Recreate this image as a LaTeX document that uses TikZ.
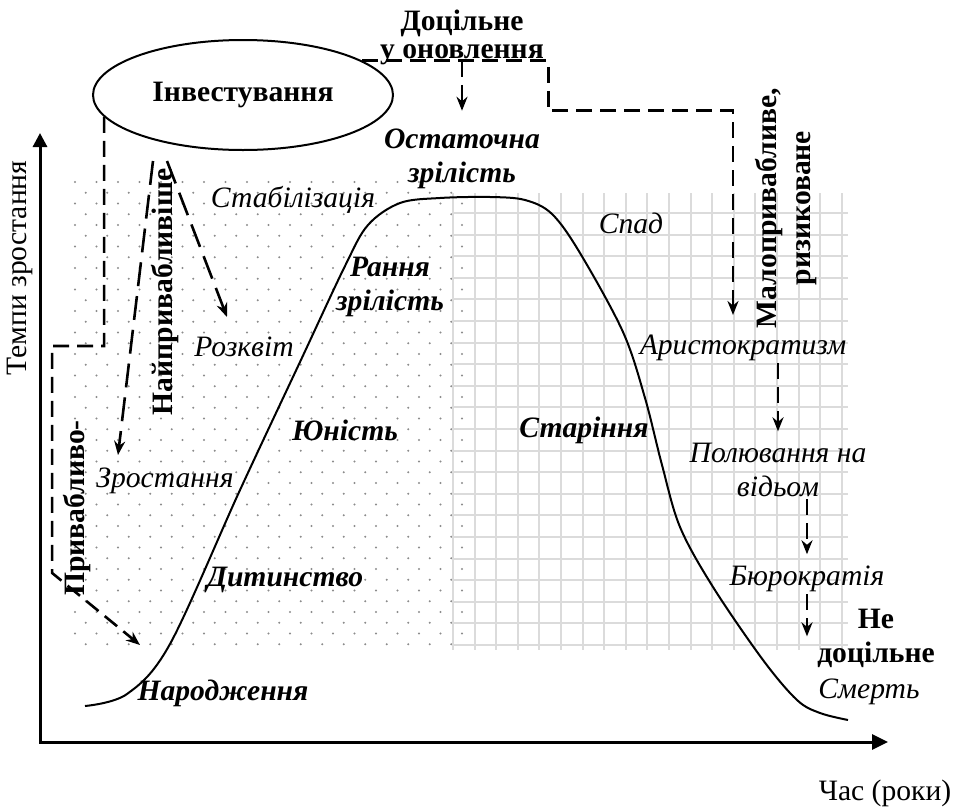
\documentclass[tikz,border=0pt]{standalone}
\usepackage{fontspec}
\setmainfont{Liberation Serif}
\usetikzlibrary{shapes.geometric,arrows.meta,calc}
\newcommand\lblsize{\fontsize{14.8}{17}\selectfont}

\begin{document}
\begin{tikzpicture}[x=0.5pt,y=-0.5pt,
    every node/.style={font=\lblsize, inner sep=1pt},
    stage/.style={font=\lblsize\itshape, align=center},
    phase/.style={font=\lblsize\bfseries\itshape, align=center},
    note/.style={font=\lblsize\bfseries, align=center},
    flow/.style={dash pattern=on 8pt off 4pt, line width=1.3pt, -{Stealth[length=7pt,width=5.5pt]}},
    longflow/.style={flow, dash pattern=on 12pt off 5pt},
    cell/.style={black!14, line width=1pt},
    dot/.style={black!45},
    axis/.style={line width=1.5pt, {Triangle[length=7pt,width=7pt]}-{Triangle[length=8pt,width=7.5pt]}},
    curve/.style={line width=1pt}]
    \useasboundingbox (0,0) rectangle (959,809);

    % Dotted field
    \begin{scope}
        \clip (70,175) rectangle (465,650);
        \foreach \row [evaluate=\row as \dy using {182+10.75*\row},
                       evaluate=\row as \dx using {75+10.75*mod(\row,2)}] in {0,...,43}
            \foreach \col in {0,...,18}
                \fill[dot] ({\dx+21.5*\col},\dy) circle[radius=0.6pt];
    \end{scope}

    % Grid field
    \foreach \gx in {0,...,18}
        \draw[cell] ({453+21.6*\gx},193) -- ({453+21.6*\gx},650);
    \foreach \gy in {0,...,20}
        \draw[cell] (453,{213+21.6*\gy}) -- (848,{213+21.6*\gy});

    % Life curve
    \draw[curve] plot[smooth, tension=0.55] coordinates {(85,706) (127,694) (170,644)
        (240,490) (300,362) (345,266) (368,225) (400,203) (440,198)
        (490,197) (525,200) (552,214) (580,253) (623,332) (645,398)
        (662,465) (680,527) (713,587) (763,660) (797,700) (820,713)
        (848,720)};

    % Axes
    \coordinate (origin) at (40,742);
    \coordinate (ytop) at (40,133);
    \coordinate (xend) at (888,742);
    \draw[axis] (ytop) -- (origin) -- (xend);
    \node[rotate=90] (ylab) at (20,268) {Темпи зростання};
    \node (xlab) at (885,793) {Час (роки)};

    % Investing
    \node[draw, ellipse, line width=1pt, minimum width=150pt, minimum height=55pt,
          font=\lblsize\bfseries] (invest) at (243,95) {Інвестування};

    % Stages
    \node[stage] (stab) at (293,200) {Стабілізація};
    \node[stage] (bloom) at (244,347) {Розквіт};
    \node[stage] (grow) at (165,481) {Зростання};
    \node[stage] (decline) at (631,223) {Спад};
    \node[stage] (aristo) at (743,348) {Аристократизм};
    \node[stage] (hunt) at (778,470) {Полювання на\\відьом};
    \node[stage] (bureau) at (807,579) {Бюрократія};
    \node[stage] (death) at (869,692) {Смерть};

    \node[phase] (final) at (462,159) {Остаточна\\зрілість};
    \node[phase] (early) at (390,287) {Рання\\зрілість};
    \node[phase] (youth) at (345,430) {Юність};
    \node[phase] (child) at (285,580) {Дитинство};
    \node[phase] (birth) at (223,693) {Народження};
    \node[phase] (aging) at (584,430) {Старіння};

    % Attractiveness
    \node[note, font=\fontsize{14.8}{14}\selectfont\bfseries] (useful) at (462,37) {Доцільне\\у оновлення};
    \node[note, rotate=90] (best) at (165,292) {Найпривабливіше};
    \node[note, rotate=90] (fair) at (77,508) {Привабливо-};
    \node[note, rotate=90] (risky) at (786,208) {Малопривабливе,\\ризиковане};
    \node[note] (useless) at (876,638) {Не\\доцільне};

    % Flows
    \coordinate (tobirth) at (140,645);
    \coordinate (togrow) at (118,455);
    \coordinate (tobloom) at (227,317);
    \coordinate (toaristo) at (733,315);
    \draw[flow] (invest.189) -- ++(0,229) -- ++(-52,0) -- ++(0,227) -- (tobirth);
    \draw[longflow] ($(invest.south)+(-90,10)$) -- (togrow);
    \draw[longflow] ($(invest.south)+(-76,10)$) -- (tobloom);
    \draw[flow] (invest.16) -- ++(186,0) -- ++(0,50) -| (toaristo);
    \draw[flow] (useful.south |- invest.16) -- ++(0,50);
    \draw[flow] (aristo.south -| hunt) -- ++(0,68);
    \draw[flow] (hunt.south -| bureau) -- ++(0,55);
    \draw[flow] (bureau.south) -- ++(0,42);
\end{tikzpicture}
\end{document}
